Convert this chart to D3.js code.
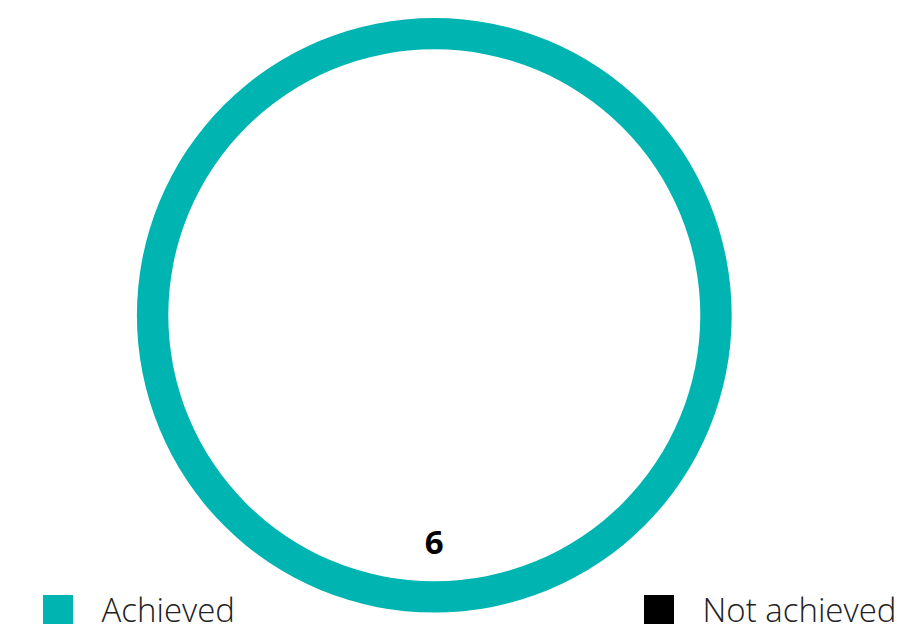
<!DOCTYPE html>
<html><head><meta charset="utf-8">
<script src="https://cdn.jsdelivr.net/npm/d3@7"></script>
<style>html,body{margin:0;padding:0;background:#fff;overflow:hidden}</style>
</head><body>
<svg id="chart" width="902" height="630"></svg>
<script>
const categories = ["Achieved", "Not achieved"];
const values = [6, 0];
const colors = ["#00b5b1", "#000000"];

const svg = d3.select("#chart");
const cx = 434.3, cy = 315.3, outerR = 297.3, innerR = 266;
const g = svg.append("g").attr("transform", `translate(${cx},${cy})`);

const data = categories.map((c, i) => ({cat: c, value: values[i], color: colors[i]}));
const pie = d3.pie().value(d => d.value).sort(null);
const arcs = pie(data);
const arc = d3.arc().innerRadius(innerR).outerRadius(outerR);
const labelArc = d3.arc().innerRadius(226).outerRadius(226);

g.selectAll("path.slice").data(arcs.filter(d => d.data.value > 0)).join("path")
  .attr("class", "slice").attr("d", arc).attr("fill", d => d.data.color);

g.selectAll("text.val").data(arcs.filter(d => d.data.value > 0)).join("text")
  .attr("class", "val")
  .attr("transform", d => `translate(${labelArc.centroid(d)})`)
  .attr("text-anchor", "middle").attr("dominant-baseline", "central")
  .attr("font-family", "'Open Sans', sans-serif").attr("font-weight", 700)
  .attr("font-size", 33).attr("fill", "#000")
  .text(d => d.data.value);

const legendX = [43, 644];
const lg = svg.selectAll("g.leg").data(data).join("g").attr("class", "leg")
  .attr("transform", (d, i) => `translate(${legendX[i]},595)`);
lg.append("rect").attr("width", 30).attr("height", 29).attr("fill", d => d.color);
lg.append("text").attr("x", 58.5).attr("y", 27)
  .attr("font-family", "'Open Sans', sans-serif").attr("font-weight", 300)
  .attr("font-size", 33).attr("fill", "#222")
  .text(d => d.cat);
</script>
</body></html>
